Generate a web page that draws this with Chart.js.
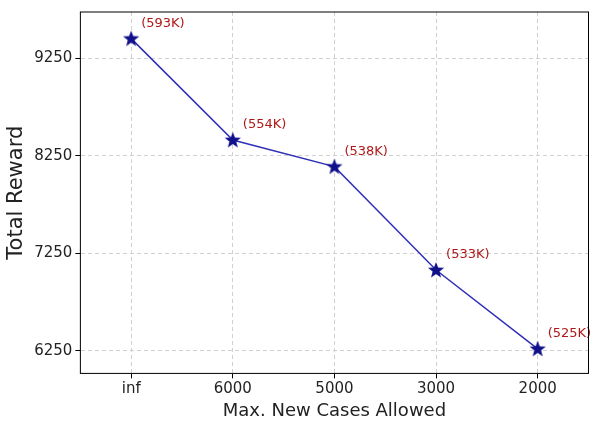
<!DOCTYPE html>
<html><head><script src="https://cdn.jsdelivr.net/npm/chart.js"></script>
<style>body{margin:0;background:#fff}#w{width:594px;height:422px}</style></head>
<body><div id="w"><canvas id="c"></canvas></div>
<script>
const categories=["inf","6000","5000","3000","2000"];
const rewards=[9452,8412,8139,7078,6270];
const annotations=["(593K)","(554K)","(538K)","(533K)","(525K)"];
const yTicks=[6250,7250,8250,9250];
function starImg(){const s=18,c=document.createElement('canvas');c.width=s;c.height=s;const x=c.getContext('2d');x.fillStyle='#10108a';x.beginPath();for(let i=0;i<10;i++){const r=i%2?3.6:8.5,a=-Math.PI/2+i*Math.PI/5;x.lineTo(9+r*Math.cos(a),9.5+r*Math.sin(a));}x.closePath();x.fill();return c;}
const labelPlugin={id:'lbl',afterDatasetsDraw(ch){const ctx=ch.ctx;const m=ch.getDatasetMeta(0);ctx.save();ctx.fillStyle='#b01818';ctx.font='13px "DejaVu Sans"';ctx.textBaseline='middle';m.data.forEach((p,i)=>ctx.fillText(annotations[i],p.x+10,p.y-15));ctx.restore();}};
const borderPlugin={id:'brd',afterDraw(ch){const a=ch.chartArea,ctx=ch.ctx;ctx.save();ctx.strokeStyle='#000';ctx.lineWidth=1;ctx.strokeRect(a.left,a.top,a.right-a.left,a.bottom-a.top);ctx.restore();}};
new Chart(document.getElementById('c'),{type:'line',data:{labels:categories,datasets:[{data:rewards,borderColor:'#3030b8',backgroundColor:'#10108a',borderWidth:1.5,pointStyle:starImg(),tension:0}]},
options:{responsive:true,maintainAspectRatio:false,animation:false,layout:{padding:{top:0,right:0,bottom:0}},plugins:{legend:{display:false},tooltip:{enabled:false}},
scales:{x:{offset:true,grid:{color:'#d0d0d0',tickLength:5,tickColor:'#000'},border:{dash:[4,3]},ticks:{color:'#222',padding:2,font:{size:15,family:'DejaVu Sans'}},title:{display:true,text:'Max. New Cases Allowed',color:'#222',font:{size:18,family:'DejaVu Sans'},padding:{top:0,bottom:0}}},
y:{min:6018,max:9725,afterBuildTicks(s){s.ticks=yTicks.map(v=>({value:v}));},grid:{color:'#d0d0d0',tickLength:5,tickColor:'#000'},border:{dash:[4,3]},ticks:{color:'#222',callback:v=>String(v),font:{size:15,family:'DejaVu Sans'}},title:{display:true,text:'Total Reward',color:'#222',font:{size:21,family:'DejaVu Sans'},padding:{bottom:2}}}}},
plugins:[labelPlugin,borderPlugin]});
</script></body></html>
